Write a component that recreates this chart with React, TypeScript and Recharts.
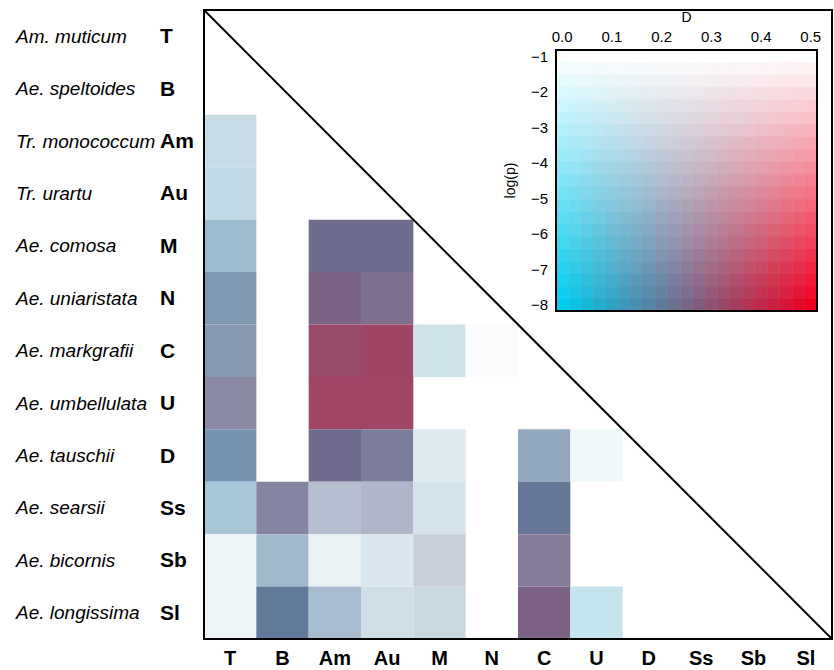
import { ComposedChart, XAxis, YAxis, ReferenceArea, ReferenceLine, Scatter } from "recharts";

// genome codes, used for both axes (top-to-bottom rows, left-to-right columns)
const genomes = ["T", "B", "Am", "Au", "M", "N", "C", "U", "D", "Ss", "Sb", "Sl"];

const species = [
  "Am. muticum",
  "Ae. speltoides",
  "Tr. monococcum",
  "Tr. urartu",
  "Ae. comosa",
  "Ae. uniaristata",
  "Ae. markgrafii",
  "Ae. umbellulata",
  "Ae. tauschii",
  "Ae. searsii",
  "Ae. bicornis",
  "Ae. longissima",
];

// [row genome, column genome] for each coloured cell
const cellPairs: [string, string][] = [
  ["Am", "T"], ["Au", "T"], ["M", "T"], ["N", "T"], ["C", "T"], ["U", "T"], ["D", "T"], ["Ss", "T"], ["Sb", "T"], ["Sl", "T"],
  ["Ss", "B"], ["Sb", "B"], ["Sl", "B"],
  ["M", "Am"], ["N", "Am"], ["C", "Am"], ["U", "Am"], ["D", "Am"], ["Ss", "Am"], ["Sb", "Am"], ["Sl", "Am"],
  ["M", "Au"], ["N", "Au"], ["C", "Au"], ["U", "Au"], ["D", "Au"], ["Ss", "Au"], ["Sb", "Au"], ["Sl", "Au"],
  ["C", "M"], ["D", "M"], ["Ss", "M"], ["Sb", "M"], ["Sl", "M"],
  ["C", "N"],
  ["D", "C"], ["Ss", "C"], ["Sb", "C"], ["Sl", "C"],
  ["D", "U"], ["Sl", "U"],
];

// D statistic per cell
const dValues = [
  0.157, 0.149, 0.166, 0.197, 0.206, 0.231, 0.192, 0.155, 0.135, 0.135,
  0.231, 0.189, 0.205,
  0.234, 0.255, 0.322, 0.334, 0.235, 0.207, 0.157, 0.189,
  0.234, 0.246, 0.332, 0.334, 0.228, 0.218, 0.16, 0.173,
  0.146, 0.157, 0.166, 0.206, 0.18,
  0.147,
  0.197, 0.214, 0.242, 0.26,
  0.108, 0.11,
];

// log(p) per cell
const logPValues = [
  -3.13, -3.32, -4.9, -6.55, -6.35, -6.64, -6.85, -4.37, -1.66, -1.66,
  -6.89, -4.94, -7.97,
  -8.0, -7.96, -7.95, -7.94, -8.0, -4.31, -1.85, -4.61,
  -8.0, -7.61, -7.99, -7.94, -7.32, -4.65, -2.45, -2.9,
  -2.77, -2.28, -2.71, -3.54, -3.19,
  -1.19,
  -5.69, -7.94, -7.12, -8.0,
  -1.52, -2.97,
];

const dTicks = [0, 0.1, 0.2, 0.3, 0.4, 0.5];
const logPTicks = [-1, -2, -3, -4, -5, -6, -7, -8];

const CYAN = [0, 204, 238];
const RED = [238, 0, 32];

const clamp = (v: number) => Math.max(0, Math.min(1, v));

// bivariate colour: D mixes cyan->red, log(p) mixes white->full colour
function cellColor(d: number, lp: number) {
  const s = clamp(d / 0.5);
  const t = clamp((-1 - lp) / 7);
  const rgb = CYAN.map((c, i) => {
    const base = c * (1 - s) + RED[i] * s;
    return Math.round(255 * (1 - t) + base * t);
  });
  return `rgb(${rgb[0]},${rgb[1]},${rgb[2]})`;
}

const centers = genomes.map((_, i) => i + 0.5);

const cells = cellPairs.map(([r, c], i) => ({
  row: genomes.indexOf(r),
  col: genomes.indexOf(c),
  cx: genomes.indexOf(c) + 0.5,
  cy: genomes.indexOf(r) + 0.5,
  color: cellColor(dValues[i], logPValues[i]),
}));

// colour key steps
const keyD = Array.from({ length: 21 }, (_, i) => i * 0.025);
const keyP = Array.from({ length: 21 }, (_, j) => -1 - j * 0.35);
const keyPoints = keyD.flatMap((d) => keyP.map((lp) => ({ d, lp })));

const XTick = (props: any) => {
  const { x, y, payload } = props;
  return (
    <text x={x} y={y} dy={18} textAnchor="middle" fontSize={20} fontWeight="bold" fill="#000">
      {genomes[Math.floor(payload.value)]}
    </text>
  );
};

const YTick = (props: any) => {
  const { y, payload } = props;
  const i = Math.floor(payload.value);
  return (
    <g>
      <text x={16} y={y} dy={6.5} fontSize={19} fontStyle="italic" fill="#000">
        {species[i]}
      </text>
      <text x={160} y={y} dy={7} fontSize={21} fontWeight="bold" fill="#000">
        {genomes[i]}
      </text>
    </g>
  );
};

const minus = (v: number) => (v < 0 ? "\u2212" + Math.abs(v) : String(v));

const NoDot = () => <g />;

export default function App() {
  return (
    <div
      style={{
        position: "absolute",
        left: 0,
        top: 0,
        width: 834,
        height: 670,
        background: "#fff",
        fontFamily: "'Liberation Sans', Arial, sans-serif",
      }}
    >
      <ComposedChart width={834} height={670} data={cells} margin={{ top: 10, right: 2, bottom: 0, left: 0 }}>
        <XAxis
          type="number"
          dataKey="cx"
          domain={[0, 12]}
          ticks={centers}
          interval={0}
          height={31}
          axisLine={false}
          tickLine={false}
          tick={<XTick />}
          allowDataOverflow
        />
        <YAxis
          type="number"
          dataKey="cy"
          domain={[0, 12]}
          reversed
          ticks={centers}
          interval={0}
          width={204}
          axisLine={false}
          tickLine={false}
          tick={<YTick />}
          allowDataOverflow
        />
        <Scatter dataKey="cy" shape={<NoDot />} isAnimationActive={false} />
        {cells.map((c, i) => (
          <ReferenceArea
            key={i}
            x1={c.col}
            x2={c.col + 1}
            y1={c.row}
            y2={c.row + 1}
            fill={c.color}
            fillOpacity={1}
            stroke="none"
          />
        ))}
        <ReferenceLine
          segment={[
            { x: 0, y: 0 },
            { x: 12, y: 12 },
          ]}
          stroke="#000"
          strokeWidth={2}
        />
        <ReferenceArea x1={0} x2={12} y1={0} y2={12} fill="none" stroke="#000" strokeWidth={2} />
      </ComposedChart>

      {/* colour key */}
      <div style={{ position: "absolute", left: 500, top: 0 }}>
        <ComposedChart width={334} height={330} data={keyPoints} margin={{ top: 0, right: 17, bottom: 19, left: 0 }}>
          <XAxis
            type="number"
            dataKey="d"
            orientation="top"
            domain={[-0.0125, 0.5125]}
            ticks={dTicks}
            interval={0}
            tickFormatter={(v: number) => v.toFixed(1)}
            height={50}
            axisLine={false}
            tickLine={false}
            tick={{ fontSize: 15, fill: "#000" }}
            label={{ value: "D", position: "insideTop", offset: 12, fontSize: 14, fill: "#000" }}
            allowDataOverflow
          />
          <YAxis
            type="number"
            dataKey="lp"
            domain={[-8.175, -0.825]}
            ticks={logPTicks}
            interval={0}
            tickFormatter={minus}
            width={56}
            axisLine={false}
            tickLine={false}
            tick={{ fontSize: 15, fill: "#000" }}
            label={{
              value: "log(p)",
              angle: -90,
              position: "insideLeft",
              offset: 10,
              fontSize: 14,
              fill: "#000",
              style: { textAnchor: "middle" },
            }}
            allowDataOverflow
          />
          <Scatter dataKey="lp" shape={<NoDot />} isAnimationActive={false} />
          {keyPoints.map((k, i) => {
            const col = cellColor(k.d, k.lp);
            return (
              <ReferenceArea
                key={i}
                x1={k.d - 0.0125}
                x2={k.d + 0.0125}
                y1={k.lp - 0.175}
                y2={k.lp + 0.175}
                fill={col}
                fillOpacity={1}
                stroke={col}
                strokeWidth={0.6}
                ifOverflow="visible"
              />
            );
          })}
          <ReferenceArea
            x1={-0.0125}
            x2={0.5125}
            y1={-8.175}
            y2={-0.825}
            fill="none"
            stroke="#000"
            strokeWidth={2}
            ifOverflow="visible"
          />
        </ComposedChart>
      </div>
    </div>
  );
}
